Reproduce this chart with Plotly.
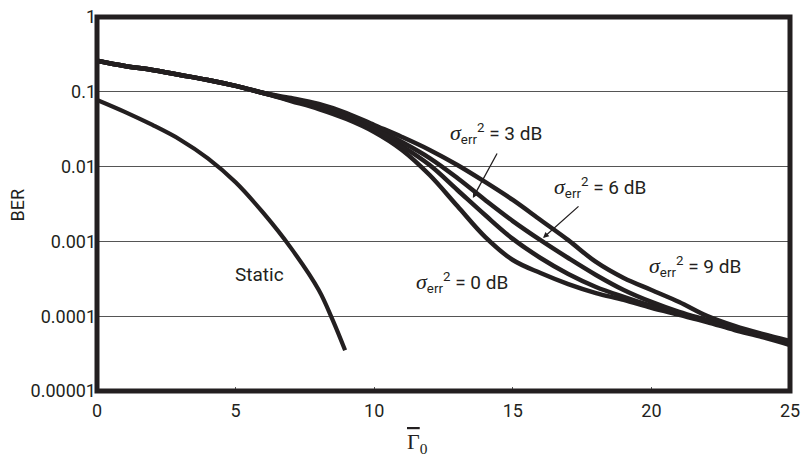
import math
import plotly.graph_objects as go

# ---- data ----
gamma = list(range(0, 26))

ber_0db = [0.26, 0.221, 0.196, 0.168, 0.144, 0.120, 0.0964, 0.0753, 0.0589, 0.0433,
           0.0290, 0.0167, 0.00772, 0.00297, 0.00115, 0.000564, 0.000378, 0.000269,
           0.000204, 0.000165, 0.000129, 0.000104, 0.0000836, 0.0000654, 0.0000527, 0.0000412]
ber_3db = [0.26, 0.221, 0.196, 0.168, 0.144, 0.120, 0.0964, 0.0770, 0.0626, 0.0460,
           0.0308, 0.0188, 0.0105, 0.00487, 0.00225, 0.00108, 0.000600, 0.000367,
           0.000246, 0.000181, 0.000137, 0.000107, 0.0000863, 0.0000674, 0.0000544, 0.0000438]
ber_6db = [0.26, 0.221, 0.196, 0.168, 0.144, 0.120, 0.0964, 0.0790, 0.0646, 0.0490,
           0.0328, 0.0213, 0.0130, 0.00704, 0.00358, 0.00187, 0.00104, 0.000600,
           0.000356, 0.000224, 0.000155, 0.000114, 0.0000889, 0.0000695, 0.0000561, 0.0000452]
ber_9db = [0.26, 0.221, 0.196, 0.168, 0.144, 0.120, 0.0964, 0.0826, 0.0687, 0.0521,
           0.0360, 0.0249, 0.0167, 0.0105, 0.00623, 0.00358, 0.00193, 0.00104,
           0.000531, 0.000324, 0.000224, 0.000155, 0.000101, 0.0000740, 0.0000578, 0.0000466]

gamma_static = [0, 1, 2, 3, 4, 5, 6, 7, 8, 8.5, 8.95]
ber_static = [0.078, 0.054, 0.036, 0.0229, 0.0129, 0.00617, 0.0024, 0.000813,
              0.000224, 0.0000891, 0.000035]

x_ticks = [0, 5, 10, 15, 20, 25]
y_tickvals = [1, 0.1, 0.01, 0.001, 0.0001, 0.00001]
y_ticktext = ["1", "0.1", "0.01", "0.001", "0.0001", "0.00001"]

INK = "#231f20"
FONT = "Roboto, Liberation Sans, sans-serif"
SERIF = "Liberation Serif, DejaVu Serif, serif"
FS = 18

fig = go.Figure()
for ys in (ber_0db, ber_3db, ber_6db, ber_9db):
    fig.add_trace(go.Scatter(x=gamma, y=ys, mode="lines",
                             line=dict(color=INK, width=4.5, shape="spline", smoothing=1),
                             showlegend=False, hoverinfo="skip"))
fig.add_trace(go.Scatter(x=gamma_static, y=ber_static, mode="lines",
                         line=dict(color=INK, width=4.2, shape="spline", smoothing=1),
                         showlegend=False, hoverinfo="skip"))


def sig(db):
    return (f"<span style='font-family:{SERIF};font-size:22px'><i>σ</i></span>"
            f"<sub>err</sub><sup>2</sup> = {db} dB")


def L(v):
    return math.log10(v)


annos = [
    dict(x=14.39, y=L(0.0281), text=sig(3)),
    dict(x=18.15, y=L(0.00518), text=sig(6)),
    dict(x=13.17, y=L(0.000278), text=sig(0)),
    dict(x=21.57, y=L(0.000455), text=sig(9)),
    dict(x=5.88, y=L(0.000356), text="Static"),
]
for a in annos:
    fig.add_annotation(xref="x", yref="y", showarrow=False,
                       font=dict(family=FONT, size=19, color=INK), **a)

# arrows
fig.add_annotation(xref="x", yref="y", x=13.56, y=-2.42, ax=25, ay=-46, text="",
                   showarrow=True, arrowhead=2, arrowsize=0.9, arrowwidth=1.3,
                   arrowcolor=INK)
fig.add_annotation(xref="x", yref="y", x=16.09, y=-2.955, ax=37, ay=-33, text="",
                   showarrow=True, arrowhead=2, arrowsize=0.9, arrowwidth=1.3,
                   arrowcolor=INK)

# axis titles
fig.add_annotation(xref="paper", yref="paper", x=-0.115, y=0.497, text="BER",
                   textangle=-90, showarrow=False, xanchor="center", yanchor="middle",
                   font=dict(family=FONT, size=FS, color=INK))
fig.add_annotation(xref="paper", yref="paper", x=0.462, y=-0.139,
                   xanchor="center", yanchor="middle",
                   text="<span style='text-decoration:overline'>Γ</span><sub>0</sub>",
                   showarrow=False, font=dict(family=SERIF, size=22, color=INK))

# frame
fig.add_shape(type="rect", xref="paper", yref="paper", x0=0, x1=1, y0=0, y1=1,
              line=dict(color=INK, width=5), layer="above")

fig.update_layout(
    width=804, height=462,
    margin=dict(l=97, r=14, t=17, b=71),
    paper_bgcolor="white", plot_bgcolor="white",
    font=dict(family=FONT, size=FS, color=INK),
    xaxis=dict(range=[0, 25], tickvals=x_ticks, showgrid=False, zeroline=False,
               ticks="inside", ticklen=4, tickwidth=1, tickcolor="#555",
               showline=False, automargin=False, ticklabelstandoff=7,
               tickfont=dict(family=FONT, size=FS, color=INK)),
    yaxis=dict(type="log", range=[-5, 0], tickvals=y_tickvals, ticktext=y_ticktext,
               showgrid=True, gridcolor="#555", gridwidth=1, zeroline=False,
               ticks="", showline=False, automargin=False,
               tickfont=dict(family=FONT, size=FS, color=INK)),
)

fig.write_html("out.html", config={"displayModeBar": False},
               post_script="document.body.style.margin='0';document.body.style.overflow='hidden';")
